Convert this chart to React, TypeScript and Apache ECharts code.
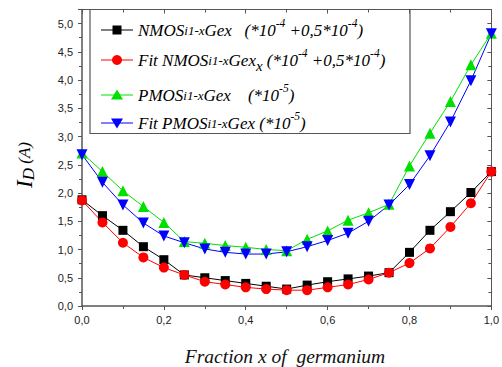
import React, { useEffect, useRef } from 'react';
import * as echarts from 'echarts';

const fractions = [0, 0.05, 0.1, 0.15, 0.2, 0.25, 0.3, 0.35, 0.4, 0.45, 0.5, 0.55, 0.6, 0.65, 0.7, 0.75, 0.8, 0.85, 0.9, 0.95, 1.0];
const nmos = [1.88, 1.6, 1.34, 1.05, 0.82, 0.55, 0.5, 0.45, 0.4, 0.35, 0.3, 0.37, 0.43, 0.48, 0.53, 0.59, 0.95, 1.34, 1.67, 2.01, 2.38];
const fitNmos = [1.87, 1.48, 1.12, 0.86, 0.68, 0.55, 0.43, 0.38, 0.33, 0.3, 0.28, 0.28, 0.33, 0.38, 0.47, 0.59, 0.76, 1.02, 1.4, 1.82, 2.38];
const pmos = [2.71, 2.38, 2.04, 1.76, 1.48, 1.14, 1.11, 1.07, 1.04, 1.0, 0.98, 1.18, 1.33, 1.52, 1.65, 1.8, 2.48, 3.06, 3.62, 4.27, 4.83];
const fitPmos = [2.68, 2.19, 1.79, 1.47, 1.24, 1.12, 1.01, 0.95, 0.92, 0.92, 0.96, 1.05, 1.16, 1.29, 1.5, 1.79, 2.15, 2.66, 3.26, 3.99, 4.82];

const xTitle = 'Fraction x of  germanium';

const SERIF = '"Liberation Serif", "DejaVu Serif", serif';
const SANS = '"Liberation Sans", Arial, sans-serif';
const AXIS = '#555';

const pair = (vals: number[]) => fractions.map((x, i) => [x, vals[i]]);
const comma = (v: number) => v.toFixed(1).replace('.', ',');

const rich = {
  b: { fontSize: 17, fontStyle: 'italic', fontFamily: SERIF, color: '#111', lineHeight: 26, verticalAlign: 'middle' },
  s: { fontSize: 13, fontStyle: 'italic', fontFamily: SERIF, color: '#111', lineHeight: 26, verticalAlign: 'middle' },
  sup: { fontSize: 11.5, fontStyle: 'italic', fontFamily: SERIF, color: '#111', lineHeight: 12, verticalAlign: 'top' },
  sub: { fontSize: 15, fontStyle: 'italic', fontFamily: SERIF, color: '#111', lineHeight: 12, verticalAlign: 'bottom' },
};

const legendRows = [
  { y: 30, color: '#000000', marker: 'rect', text: '{b|NMOS}{s|i1-x}{b|Gex   (*10}{sup|-4}{b| +0,5*10}{sup|-4}{b|)}' },
  { y: 60, color: '#ff0000', marker: 'circle', text: '{b|Fit NMOS}{s|i1-x}{b|Gex}{sub|x}{b| (*10}{sup|-4}{b| +0,5*10}{sup|-4}{b|)}' },
  { y: 95, color: '#00e000', marker: 'up', text: '{b|PMOS}{s|i1-x}{b|Gex    (*10}{sup|-5}{b|)}' },
  { y: 123, color: '#0000ff', marker: 'down', text: '{b|Fit PMOS}{s|i1-x}{b|Gex (*10}{sup|-5}{b|)}' },
];

function markerEl(kind: string, cx: number, cy: number, color: string): any {
  if (kind === 'rect') return { type: 'rect', shape: { x: cx - 4.5, y: cy - 4.5, width: 9, height: 9 }, style: { fill: color } };
  if (kind === 'circle') return { type: 'circle', shape: { cx, cy, r: 5 }, style: { fill: color } };
  if (kind === 'up') return { type: 'polygon', shape: { points: [[cx, cy - 5.5], [cx + 6, cy + 4.5], [cx - 6, cy + 4.5]] }, style: { fill: color } };
  return { type: 'polygon', shape: { points: [[cx, cy + 5.5], [cx + 6, cy - 4.5], [cx - 6, cy - 4.5]] }, style: { fill: color } };
}

export default function App() {
  const ref = useRef<HTMLDivElement>(null);
  useEffect(() => {
    const chart = echarts.init(ref.current!, null, { renderer: 'svg' });
    const legendEls: any[] = [
      { type: 'rect', shape: { x: 90, y: 9.5, width: 320, height: 124 }, style: { fill: '#fff', stroke: AXIS, lineWidth: 1.2 } },
    ];
    legendRows.forEach((r) => {
      legendEls.push({ type: 'line', shape: { x1: 101, y1: r.y, x2: 133, y2: r.y }, style: { stroke: r.color, lineWidth: 1 } });
      legendEls.push(markerEl(r.marker, 117, r.y, r.color));
      legendEls.push({ type: 'text', x: 138, y: r.y, style: { text: r.text, rich, verticalAlign: 'middle', align: 'left' } });
    });

    const xAxisBase = {
      type: 'value', min: 0, max: 1, interval: 0.2,
      splitLine: { show: false },
    };
    const yAxisBase = {
      type: 'value', min: 0, max: 5.25, interval: 0.5,
      splitLine: { show: false },
    };

    const option: any = {
      animation: false,
      backgroundColor: '#fff',
      grid: { left: 82, right: 8.5, top: 9.5, bottom: 61, containLabel: false },
      xAxis: [
        {
          ...xAxisBase, position: 'bottom',
          axisLine: { show: true, onZero: false, lineStyle: { color: AXIS, width: 1.5 } },
          axisTick: { show: true, inside: false, length: 4, lineStyle: { color: AXIS } },
          minorTick: { show: true, splitNumber: 2, length: 3, lineStyle: { color: AXIS } },
          axisLabel: { formatter: (v: number) => comma(v), fontSize: 11, color: '#222', fontFamily: SANS, margin: 8 },
        },
        {
          ...xAxisBase, position: 'top',
          axisLine: { show: true, onZero: false, lineStyle: { color: AXIS, width: 1 } },
          axisTick: { show: true, inside: true, length: 4, lineStyle: { color: AXIS } },
          minorTick: { show: true, splitNumber: 2, length: 3, lineStyle: { color: AXIS } },
          axisLabel: { show: false },
        },
      ],
      yAxis: [
        {
          ...yAxisBase, position: 'left',
          axisLine: { show: true, onZero: false, lineStyle: { color: AXIS, width: 1.5 } },
          axisTick: { show: true, inside: false, length: 4, lineStyle: { color: AXIS } },
          minorTick: { show: true, splitNumber: 2, length: 3, lineStyle: { color: AXIS } },
          axisLabel: {
            showMaxLabel: false,
            formatter: (v: number) => (Math.abs(v * 2 - Math.round(v * 2)) > 1e-6 ? '' : comma(v)),
            fontSize: 11, color: '#222', fontFamily: SANS, margin: 9,
          },
        },
        {
          ...yAxisBase, position: 'right',
          axisLine: { show: true, onZero: false, lineStyle: { color: AXIS, width: 1 } },
          axisTick: { show: true, inside: true, length: 4, lineStyle: { color: AXIS } },
          minorTick: { show: true, splitNumber: 2, length: 3, lineStyle: { color: AXIS } },
          axisLabel: { show: false },
        },
      ],
      series: [
        { name: 'NMOS', type: 'line', data: pair(nmos), symbol: 'rect', symbolSize: 9, itemStyle: { color: '#000' }, lineStyle: { color: '#000', width: 1 } },
        { name: 'Fit NMOS', type: 'line', data: pair(fitNmos), symbol: 'circle', symbolSize: 10, itemStyle: { color: '#ff0000' }, lineStyle: { color: '#ff0000', width: 1 } },
        { name: 'PMOS', type: 'line', data: pair(pmos), symbol: 'triangle', symbolSize: 11, itemStyle: { color: '#00e000' }, lineStyle: { color: '#00e000', width: 1 } },
        { name: 'Fit PMOS', type: 'line', data: pair(fitPmos), symbol: 'triangle', symbolRotate: 180, symbolSize: 11, itemStyle: { color: '#0000ff' }, lineStyle: { color: '#0000ff', width: 1 } },
      ],
      graphic: [
        ...legendEls,
        {
          type: 'text', x: 24, y: 165, rotation: Math.PI / 2,
          style: {
            text: '{i|I}{d|D}{a| (A)}',
            align: 'center', verticalAlign: 'middle',
            rich: {
              i: { fontSize: 23, fontStyle: 'italic', fontFamily: SERIF, color: '#111', lineHeight: 26, verticalAlign: 'middle' },
              d: { fontSize: 17, fontStyle: 'italic', fontFamily: SERIF, color: '#111', lineHeight: 14, verticalAlign: 'bottom' },
              a: { fontSize: 17, fontStyle: 'italic', fontFamily: SERIF, color: '#111', lineHeight: 26, verticalAlign: 'middle' },
            },
          },
        },
        {
          type: 'text', x: 285, y: 356,
          style: { text: xTitle, align: 'center', verticalAlign: 'middle', fontSize: 19.5, fontStyle: 'italic', fontFamily: SERIF, fill: '#111' },
        },
      ],
    };
    chart.setOption(option);
    return () => chart.dispose();
  }, []);
  return <div ref={ref} style={{ position: 'absolute', left: 0, top: 0, width: 502, height: 367 }} />;
}
